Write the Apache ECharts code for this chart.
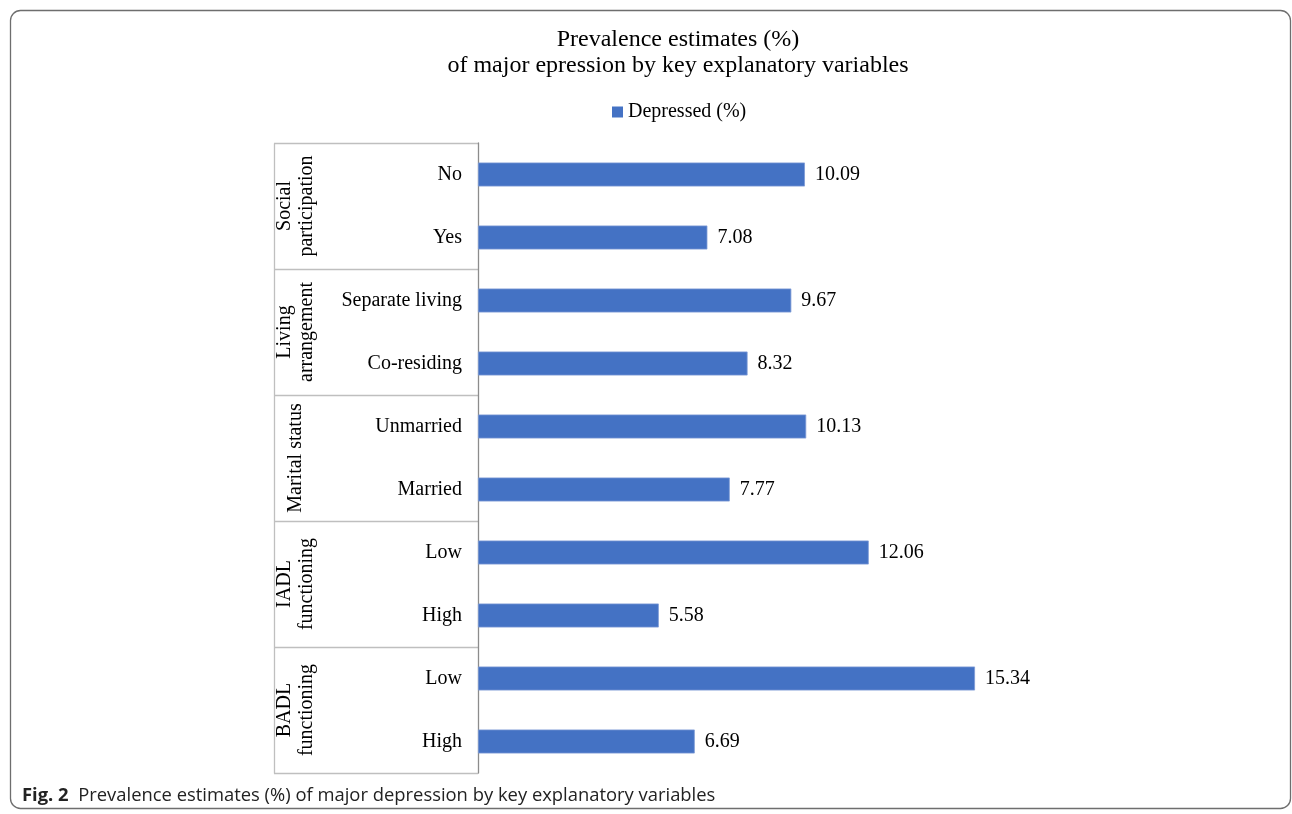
<!DOCTYPE html>
<html>
<head>
<meta charset="utf-8">
<script src="https://cdn.jsdelivr.net/npm/echarts@6/dist/echarts.min.js"></script>
<style>
  html, body { margin: 0; padding: 0; background: #fff; }
  #chart { width: 1292px; height: 814px; }
</style>
</head>
<body>
<div id="chart"></div>
<script>
var categories = ['No', 'Yes', 'Separate living', 'Co-residing', 'Unmarried', 'Married', 'Low', 'High', 'Low', 'High'];
var values = [10.09, 7.08, 9.67, 8.32, 10.13, 7.77, 12.06, 5.58, 15.34, 6.69];
// each group covers two categories, label split in two lines
var groups = [
	['Social', 'participation'],
	['Living', 'arrangement'],
	['Marital status'],
	['IADL', 'functioning'],
	['BADL', 'functioning']
];
var serif = 'Liberation Serif';

var myChart = echarts.init(document.getElementById('chart'));

var option = {
	animation: false,
	title: {
		text: 'Prevalence estimates (%)\nof major epression by key explanatory variables',
		left: 673,
		textAlign: 'center',
		top: 22,
		textStyle: {
			fontFamily: serif,
			fontSize: 24,
			fontWeight: 'normal',
			lineHeight: 26,
			color: '#000'
		}
	},
	legend: {
		data: ['Depressed (%)'],
		left: 607,
		top: 97,
		icon: 'rect',
		itemWidth: 11,
		itemHeight: 11,
		itemGap: 3,
		itemStyle: { borderWidth: 0 },
		textStyle: {
			fontFamily: serif,
			fontSize: 20,
			color: '#000'
		}
	},
	grid: {
		left: 478,
		top: 143,
		width: 648,
		height: 630
	},
	xAxis: {
		type: 'value',
		min: 0,
		max: 20,
		show: false
	},
	yAxis: {
		type: 'category',
		inverse: true,
		data: categories,
		axisLine: { show: true, lineStyle: { color: '#8c8c8c', width: 1.3 } },
		axisTick: { show: false },
		axisLabel: {
			margin: 16,
			padding: [4, 0, 0, 0],
			fontFamily: serif,
			fontSize: 20,
			color: '#000'
		}
	},
	series: [{
		name: 'Depressed (%)',
		type: 'bar',
		data: values,
		barWidth: 24,
		itemStyle: { color: '#4472c4', borderColor: '#7d9bd6', borderWidth: 0.8 },
		label: {
			show: true,
			position: 'right',
			distance: 10,
			padding: [4, 0, 0, 0],
			fontFamily: serif,
			fontSize: 20,
			color: '#000',
			formatter: function(p) {
				return p.value.toFixed(2);
			}
		}
	}]
};
myChart.setOption(option);

// table lines and group labels to the left of the axis
var axisX = myChart.convertToPixel({ xAxisIndex: 0 }, 0);
var tableLeft = 274;
var graphics = [];
var band = (myChart.convertToPixel({ yAxisIndex: 0 }, 1) - myChart.convertToPixel({ yAxisIndex: 0 }, 0));
var top0 = myChart.convertToPixel({ yAxisIndex: 0 }, 0) - band / 2;
for (var i = 0; i <= groups.length; i++) {
	var y = Math.round(top0 + i * 2 * band) + 0.5;
	graphics.push({
		type: 'line',
		shape: { x1: tableLeft, y1: y, x2: axisX, y2: y },
		style: { stroke: '#bfbfbf', lineWidth: 1.3 }
	});
}
graphics.push({
	type: 'line',
	shape: { x1: tableLeft + 0.5, y1: Math.round(top0) + 0.5, x2: tableLeft + 0.5, y2: Math.round(top0 + 10 * band) + 0.5 },
	style: { stroke: '#bfbfbf', lineWidth: 1.3 }
});
for (var g = 0; g < groups.length; g++) {
	var cy = top0 + (2 * g + 1) * band;
	graphics.push({
		type: 'text',
		x: 296,
		y: cy,
		rotation: Math.PI / 2,
		style: {
			text: groups[g].join('\n'),
			fontFamily: serif,
			fontSize: 20,
			lineHeight: 22,
			fill: '#000',
			align: 'center',
			verticalAlign: 'middle'
		}
	});
}
// figure frame and caption
graphics.push({
	type: 'rect',
	shape: { x: 10.5, y: 10.5, width: 1280, height: 798, r: 10 },
	style: { fill: null, stroke: '#6e6e6e', lineWidth: 1.3 },
	z: -1
});
graphics.push({
	type: 'text',
	x: 22,
	y: 796,
	style: {
		text: '{b|Fig. 2}  Prevalence estimates (%) of major depression by key explanatory variables',
		fontFamily: 'Open Sans',
		fontSize: 18.4,
		fill: '#222',
		verticalAlign: 'middle',
		rich: {
			b: { fontFamily: 'Open Sans', fontSize: 18.4, fontWeight: 'bold', fill: '#222' }
		}
	}
});
myChart.setOption({ graphic: graphics });
</script>
</body>
</html>
